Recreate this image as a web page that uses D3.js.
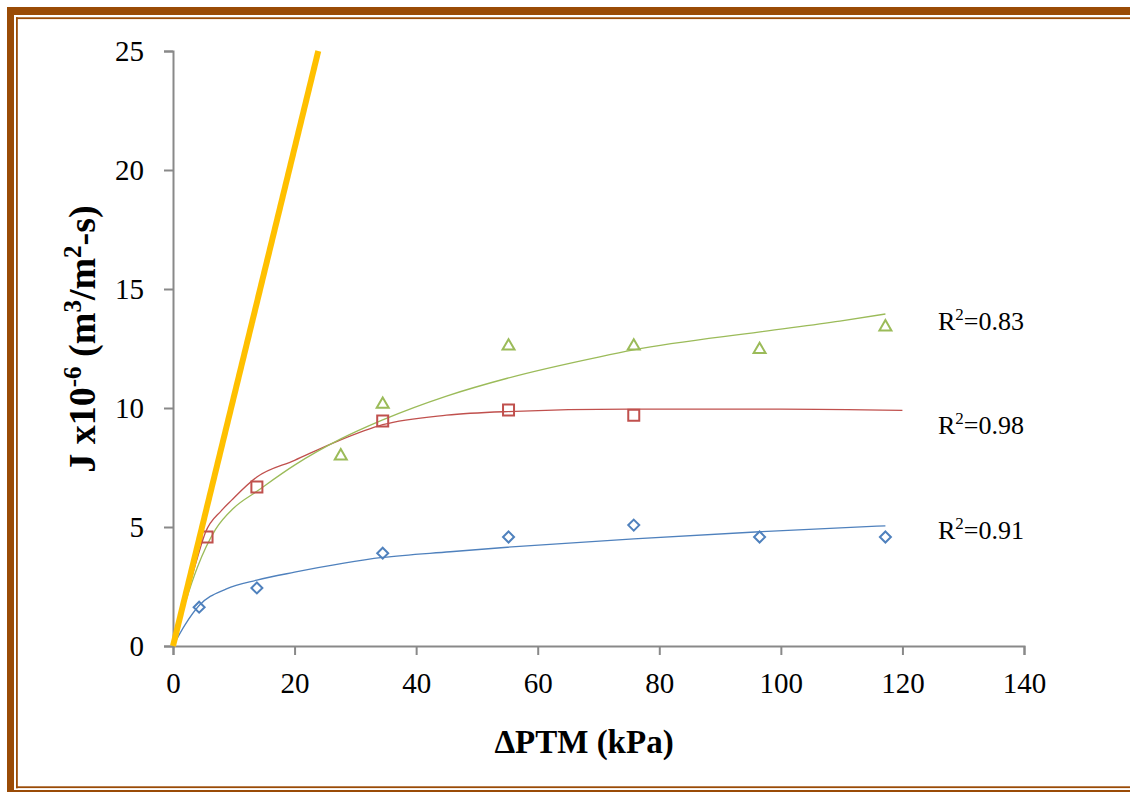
<!DOCTYPE html>
<html>
<head>
<meta charset="utf-8">
<script src="https://cdn.jsdelivr.net/npm/d3@7"></script>
<style>
  body { margin: 0; background: #fff; }
  text { font-family: "Liberation Serif", "Times New Roman", serif; fill: #000; }
</style>
</head>
<body>
<div id="chart"></div>
<script>
// measured points
var blueX = [4.3, 13.8, 34.5, 55.2, 75.8, 96.5, 117.2];
var blueY = [1.63, 2.44, 3.9, 4.58, 5.08, 4.58, 4.58];
var redX = [5.6, 13.8, 34.5, 55.2, 75.8];
var redY = [4.58, 6.68, 9.45, 9.92, 9.7];
var greenX = [27.6, 34.5, 55.2, 75.8, 96.5, 117.2];
var greenY = [8.03, 10.2, 12.65, 12.65, 12.5, 13.45];

// trend curves
var blueFitX = [0, 2, 4.3, 8.8, 13.8, 20, 34.5, 45.6, 55, 75.8, 96.5, 117.2];
var blueFitY = [0, 0.9, 1.7, 2.4, 2.77, 3.1, 3.72, 3.96, 4.15, 4.5, 4.8, 5.05];
var redFitX = [0, 2, 4, 5.3, 8, 9.65, 13.8, 20, 27, 34.5, 45, 55, 75, 100, 120];
var redFitY = [0, 1.9, 3.7, 4.75, 5.7, 6.13, 7.1, 7.8, 8.6, 9.3, 9.7, 9.85, 9.95, 9.95, 9.9];
var greenFitX = [0, 2, 4, 7, 10, 13.8, 20, 27.6, 34.5, 45, 55, 70.2, 75.8, 96.6, 109.7, 117.2];
var greenFitY = [0, 1.8, 3.3, 4.9, 5.8, 6.5, 7.6, 8.7, 9.5, 10.5, 11.25, 12.15, 12.44, 13.2, 13.65, 13.95];
var orangeX = [0, 23.9];
var orangeY = [0, 25];

var r2Labels = ["0.83", "0.98", "0.91"];
var r2Y = [13.28, 8.9, 4.5];

var xTicks = [0, 20, 40, 60, 80, 100, 120, 140];
var yTicks = [0, 5, 10, 15, 20, 25];

var W = 1130, H = 792;
var brown = "#9A4B06";
var axisGray = "#898989";

var svg = d3.select("#chart").append("svg")
    .attr("width", W)
    .attr("height", H);

// frame
svg.append("rect").attr("x", 7).attr("y", 7).attr("width", W).attr("height", 8).attr("fill", brown);
svg.append("rect").attr("x", 7).attr("y", 7).attr("width", 7).attr("height", H).attr("fill", brown);
svg.append("rect").attr("x", 7).attr("y", 790).attr("width", W).attr("height", 6).attr("fill", brown);
svg.append("rect").attr("x", 16).attr("y", 17.3).attr("width", W).attr("height", 1.8).attr("fill", brown);
svg.append("rect").attr("x", 16).attr("y", 17.3).attr("width", 1.8).attr("height", 771).attr("fill", brown);
svg.append("rect").attr("x", 16).attr("y", 786.3).attr("width", W).attr("height", 1.8).attr("fill", brown);

var x = d3.scaleLinear().domain([0, 140]).range([173, 1024]);
var y = d3.scaleLinear().domain([0, 25]).range([646, 51]);

var xAxis = d3.axisBottom(x).tickValues(xTicks).tickSize(9).tickPadding(17);
var yAxis = d3.axisLeft(y).tickValues(yTicks).tickSize(9).tickPadding(20);

var gX = svg.append("g").attr("transform", "translate(0,646)").call(xAxis);
var gY = svg.append("g").attr("transform", "translate(173,0)").call(yAxis);

[gX, gY].forEach(function(g) {
  g.selectAll("path, line").attr("stroke", axisGray).attr("stroke-width", 2);
  g.selectAll("text").style("font-size", "29px")
    .style("font-family", '"Liberation Serif", "Times New Roman", serif').attr("fill", "#000");
});

function pts(xs, ys) {
  return xs.map(function(v, i) { return [v, ys[i]]; });
}

var line = d3.line()
    .x(function(d) { return x(d[0]); })
    .y(function(d) { return y(d[1]); })
    .curve(d3.curveMonotoneX);

svg.append("path").datum(pts(blueFitX, blueFitY)).attr("d", line)
    .attr("fill", "none").attr("stroke", "#4F81BD").attr("stroke-width", 1.3);
svg.append("path").datum(pts(redFitX, redFitY)).attr("d", line)
    .attr("fill", "none").attr("stroke", "#C0504D").attr("stroke-width", 1.3);
svg.append("path").datum(pts(greenFitX, greenFitY)).attr("d", line)
    .attr("fill", "none").attr("stroke", "#9BBB59").attr("stroke-width", 1.3);

// markers
var diamond = "M0,-5.5L5.5,0L0,5.5L-5.5,0Z";
var square = "M-5.5,-5.5H5.5V5.5H-5.5Z";
var triangle = "M0,-5.8L6,4.6H-6Z";

function markers(xs, ys, shape, color) {
  svg.append("g").selectAll("path")
    .data(pts(xs, ys))
    .join("path")
      .attr("d", shape)
      .attr("transform", function(d) { return "translate(" + x(d[0]) + "," + y(d[1]) + ")"; })
      .attr("fill", "none")
      .attr("stroke", color)
      .attr("stroke-width", 2);
}
markers(blueX, blueY, diamond, "#4F81BD");
markers(redX, redY, square, "#C0504D");
markers(greenX, greenY, triangle, "#9BBB59");

// orange reference line
svg.append("path").datum(pts(orangeX, orangeY))
    .attr("d", d3.line().x(function(d) { return x(d[0]); }).y(function(d) { return y(d[1]); }))
    .attr("fill", "none").attr("stroke", "#FFC000").attr("stroke-width", 6);

// R2 labels
r2Labels.forEach(function(v, i) {
  var t = svg.append("text").attr("x", 938).attr("y", y(r2Y[i]))
      .style("font-size", "26px");
  t.append("tspan").text("R");
  t.append("tspan").attr("dy", -10).style("font-size", "17px").text("2");
  t.append("tspan").attr("dy", 10).text("=" + v);
});

// axis titles
svg.append("text")
    .attr("x", 584).attr("y", 753)
    .attr("text-anchor", "middle")
    .style("font-size", "33px").style("font-weight", "bold")
    .text("\u0394PTM (kPa)");

var yt = svg.append("text")
    .attr("transform", "translate(95,339) rotate(-90)")
    .attr("text-anchor", "middle")
    .style("font-size", "38px").style("font-weight", "bold");
yt.append("tspan").text("J x10");
yt.append("tspan").attr("dy", -14).style("font-size", "25px").text("-6");
yt.append("tspan").attr("dy", 14).text(" (m");
yt.append("tspan").attr("dy", -14).style("font-size", "25px").text("3");
yt.append("tspan").attr("dy", 14).text("/m");
yt.append("tspan").attr("dy", -14).style("font-size", "25px").text("2");
yt.append("tspan").attr("dy", 14).text("-s)");
</script>
</body>
</html>
